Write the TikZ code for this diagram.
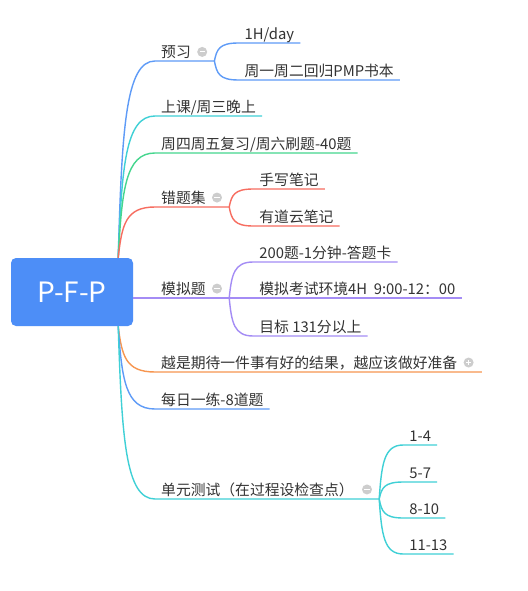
\documentclass[tikz,border=0pt]{standalone}
\usepackage{fontspec}
\setmainfont{Noto Sans CJK SC}
\usetikzlibrary{calc,positioning}
\definecolor{rootblue}{HTML}{4D8EF7}
\definecolor{cblue}{HTML}{5E9BF7}
\definecolor{ccyan}{HTML}{3FD0D6}
\definecolor{cgreen}{HTML}{45D68E}
\definecolor{cred}{HTML}{F76D60}
\definecolor{cpurple}{HTML}{A48CF5}
\definecolor{corange}{HTML}{F79650}
\definecolor{txtgray}{HTML}{333333}
\definecolor{foldgray}{HTML}{CDCDCD}

\begin{document}
\begin{tikzpicture}[x=1pt,y=-1pt,
  root/.style={fill=rootblue,rounded corners=5pt,minimum width=122pt,minimum height=68pt,text=white,font=\fontsize{28}{30}\selectfont},
  txt/.style={anchor=south west,inner xsep=6pt,inner ysep=3pt,text depth=0pt,text=txtgray,font=\fontsize{14.8}{17}\selectfont},
  fold/.style={circle,fill=foldgray,inner sep=0pt,minimum size=10pt,
    path picture={\draw[white,line width=1.1pt] ([xshift=-2.6pt]path picture bounding box.center) -- ([xshift=2.6pt]path picture bounding box.center);}},
  unfold/.style={circle,fill=foldgray,inner sep=0pt,minimum size=10pt,
    path picture={\draw[white,line width=1.1pt] ([xshift=-2.6pt]path picture bounding box.center) -- ([xshift=2.6pt]path picture bounding box.center)
      ([yshift=-2.6pt]path picture bounding box.center) -- ([yshift=2.6pt]path picture bounding box.center);}},
  line/.style={line width=1.4pt},
  br/.style={line, to path={let \p1=(\tikztostart),\p2=(\tikztotarget) in
    .. controls ({\x1+0.1*(\x2-\x1)},{\y1+0.65*(\y2-\y1)}) and ({\x1+0.2*(\x2-\x1)},\y2) .. (\tikztotarget) \tikztonodes}}]
\fill[white] (0,0) rectangle (527,591);
\path[use as bounding box] (0,0) rectangle (527,591);
\node[root] (pfp) at (72,292) {P-F-P};
\coordinate (up) at ([xshift=-15pt]pfp.north east);
\coordinate (dn) at ([xshift=-15pt]pfp.south east);

\node[txt] (yx) at (155,61) {预习};
\node[fold,right=0pt of yx] (yxc) {};
\coordinate (yxf) at ($(yxc.east |- yx.south)+(7,0)$);
\node[txt] (yx1) at ($(yxf)+(24,-18)$) {1H/day};
\node[txt] (yx2) at ($(yxf)+(24,19)$) {周一周二回归PMP书本};
\node[txt] (sk) at (155,116) {上课/周三晚上};
\node[txt] (fx) at (155,153) {周四周五复习/周六刷题-40题};
\node[txt] (ct) at (155,207) {错题集};
\node[fold,right=0pt of ct] (ctc) {};
\coordinate (ctf) at ($(ctc.east |- ct.south)+(7,0)$);
\node[txt] (ct1) at ($(ctf)+(24,-18)$) {手写笔记};
\node[txt] (ct2) at ($(ctf)+(24,19)$) {有道云笔记};
\node[txt] (mn) at (155,298) {模拟题};
\node[fold,right=0pt of mn] (mnc) {};
\coordinate (mnf) at ($(mnc.east |- mn.south)+(7,0)$);
\node[txt] (mn1) at ($(mnf)+(24,-36)$) {200题-1分钟-答题卡};
\node[txt] (mn2) at ($(mnf)+(24,0)$) {模拟考试环境4H\ \ 9:00-12：00};
\node[txt] (mn3) at ($(mnf)+(24,38)$) {目标 131分以上};
\node[txt] (ys) at (155,372) {越是期待一件事有好的结果，越应该做好准备};
\node[unfold,right=0pt of ys] (ysc) {};
\coordinate (yse) at ($(ysc.east |- ys.south)+(8,0)$);
\node[txt] (mr) at (155,409) {每日一练-8道题};
\node[txt] (dy) at (155,499) {单元测试（在过程设检查点）};
\node[fold,right=2pt of dy] (dyc) {};
\coordinate (dyf) at ($(dyc.east |- dy.south)+(7,0)$);
\node[txt] (dy1) at ($(dyf)+(24,-54)$) {1-4};
\node[txt] (dy2) at ($(dyf)+(24,-17)$) {5-7};
\node[txt] (dy3) at ($(dyf)+(24,19)$) {8-10};
\node[txt] (dy4) at ($(dyf)+(24,55)$) {11-13};

\draw[br,cblue] (up) to (yx.south west) -- (yxf);
\draw[br,cblue] (yxf) to (yx1.south west) -- (yx1.south east);
\draw[br,cblue] (yxf) to (yx2.south west) -- (yx2.south east);
\draw[br,ccyan] (up) to (sk.south west) -- (sk.south east);
\draw[br,cgreen] (up) to (fx.south west) -- (fx.south east);
\draw[br,cred] (up) to (ct.south west) -- (ctf);
\draw[br,cred] (ctf) to (ct1.south west) -- (ct1.south east);
\draw[br,cred] (ctf) to (ct2.south west) -- (ct2.south east);
\draw[line,cpurple] (pfp.east |- mnf) -- (mnf);
\draw[br,cpurple] (mnf) to (mn1.south west) -- (mn1.south east);
\draw[line,cpurple] (mnf) -- (mn2.south east);
\draw[br,cpurple] (mnf) to (mn3.south west) -- (mn3.south east);
\draw[br,corange] (dn) to (ys.south west) -- (yse);
\draw[br,cblue] (dn) to (mr.south west) -- (mr.south east);
\draw[br,ccyan] (dn) to (dy.south west) -- (dyf);
\draw[br,ccyan] (dyf) to (dy1.south west) -- (dy1.south east);
\draw[br,ccyan] (dyf) to (dy2.south west) -- (dy2.south east);
\draw[br,ccyan] (dyf) to (dy3.south west) -- (dy3.south east);
\draw[br,ccyan] (dyf) to (dy4.south west) -- (dy4.south east);
\end{tikzpicture}
\end{document}
